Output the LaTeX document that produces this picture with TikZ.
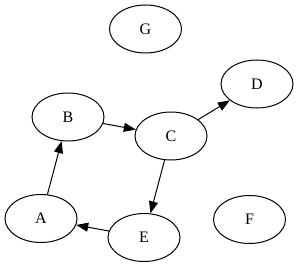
\documentclass[tikz,border=0pt]{standalone}
\usepackage{fontspec}
\setmainfont{Liberation Serif}
\usetikzlibrary{shapes.geometric,arrows.meta}
\begin{document}
\begin{tikzpicture}[x=1pt,y=-1pt,
  vertex/.style={ellipse,draw,line width=1pt,minimum width=72pt,minimum height=48pt,inner sep=0pt,font=\fontsize{16}{18}\selectfont},
  edge/.style={line width=1pt,-{Triangle[length=12pt,width=9pt]}}]
\useasboundingbox (0,0) rectangle (299,267);
\node[vertex] (G) at (145.5,29) {G};
\node[vertex] (D) at (257,84) {D};
\node[vertex] (B) at (68,117) {B};
\node[vertex] (C) at (171,136) {C};
\node[vertex] (A) at (41,218.5) {A};
\node[vertex] (E) at (144,237.5) {E};
\node[vertex] (F) at (249.5,219.5) {F};
\draw[edge] (A) -- (B);
\draw[edge] (B) -- (C);
\draw[edge] (C) -- (D);
\draw[edge] (C) -- (E);
\draw[edge] (E) -- (A);
\end{tikzpicture}
\end{document}
